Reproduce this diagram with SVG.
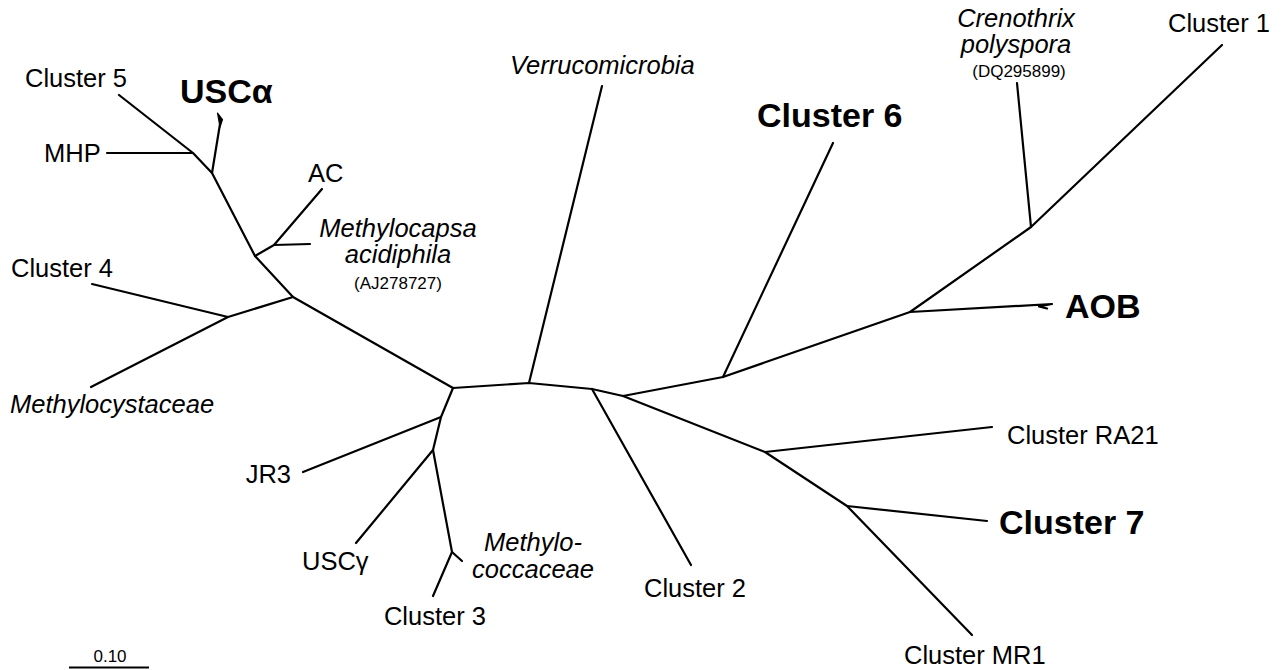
<svg xmlns="http://www.w3.org/2000/svg" width="1281" height="670" viewBox="0 0 1281 670">
<style>
.br{stroke:#000;stroke-width:2.2;fill:none;stroke-linecap:round;stroke-linejoin:round}
text{font-family:"Liberation Sans",Arial,sans-serif;fill:#000}
.r{font-size:25.5px}
.i{font-size:25.5px;font-style:italic}
.b{font-size:34px;font-weight:bold}
.s{font-size:17px}
.m{text-anchor:middle}
.e{text-anchor:end}
</style>
<rect width="1281" height="670" fill="#fff"/>
<g id="connectors" class="br">
<polyline points="119,95 193,153 212,173 255,256 293,297 453,388 529,383 592,389 623,396 723,377 910,312 1031,227 1222,45"/>
<line x1="107" y1="153" x2="193" y2="153"/>
<line x1="212" y1="173" x2="220" y2="124"/>
<polygon points="217.5,113 222.5,119.5 220,127" fill="#000" stroke-width="1.2"/>
<polyline points="255,256 274,245 322,189"/>
<line x1="274" y1="245" x2="310" y2="244"/>
<polyline points="92,284 228,317 91,387"/>
<line x1="293" y1="297" x2="228" y2="317"/>
<line x1="529" y1="383" x2="602" y2="86"/>
<line x1="592" y1="389" x2="691" y2="565"/>
<line x1="723" y1="377" x2="833" y2="143"/>
<line x1="1031" y1="227" x2="1017" y2="83"/>
<polyline points="910,312 1052,304 1039,306.5 1047,308.5"/>
<polyline points="623,396 765,452 847,506 972,635"/>
<line x1="765" y1="452" x2="992" y2="427"/>
<line x1="847" y1="506" x2="987" y2="521"/>
<polyline points="453,388 441,417 433,450 452,552 433,596"/>
<line x1="441" y1="417" x2="303" y2="472"/>
<line x1="433" y1="450" x2="356" y2="543"/>
<line x1="452" y1="552" x2="462" y2="561"/>
</g>
<g id="cluster5"><text class="r" x="25" y="87">Cluster 5</text></g>
<g id="usca"><text class="b" x="180" y="103">USCα</text></g>
<g id="mhp"><text class="r" x="44" y="162">MHP</text></g>
<g id="ac"><text class="r" x="308" y="182">AC</text></g>
<g id="methylocapsa">
<text class="i m" x="398" y="237">Methylocapsa</text>
<text class="i m" x="398" y="263">acidiphila</text>
<text class="s m" x="398" y="289">(AJ278727)</text>
</g>
<g id="cluster4"><text class="r" x="11" y="277">Cluster 4</text></g>
<g id="methylocystaceae"><text class="i" x="10" y="413">Methylocystaceae</text></g>
<g id="verrucomicrobia"><text class="i" x="510" y="74">Verrucomicrobia</text></g>
<g id="cluster6"><text class="b" x="757" y="127">Cluster 6</text></g>
<g id="crenothrix">
<text class="i m" x="1016" y="27">Crenothrix</text>
<text class="i m" x="1016" y="53">polyspora</text>
<text class="s m" x="1019" y="77">(DQ295899)</text>
</g>
<g id="cluster1"><text class="r" x="1168" y="32">Cluster 1</text></g>
<g id="aob"><text class="b" x="1065" y="318">AOB</text></g>
<g id="clusterRA21"><text class="r" x="1007" y="444">Cluster RA21</text></g>
<g id="cluster7"><text class="b" x="999" y="534">Cluster 7</text></g>
<g id="clusterMR1"><text class="r" x="904" y="664">Cluster MR1</text></g>
<g id="cluster2"><text class="r" x="644" y="597">Cluster 2</text></g>
<g id="methylococcaceae">
<text class="i m" x="533" y="551">Methylo-</text>
<text class="i m" x="533" y="578">coccaceae</text>
</g>
<g id="cluster3"><text class="r e" x="486" y="625">Cluster 3</text></g>
<g id="uscg"><text class="r" x="302" y="570">USCγ</text></g>
<g id="jr3"><text class="r e" x="291" y="483">JR3</text></g>
<g id="scale">
<line x1="69" y1="667.5" x2="149" y2="667.5" stroke="#000" stroke-width="2"/>
<text class="s m" x="110" y="662">0.10</text>
</g>
</svg>
